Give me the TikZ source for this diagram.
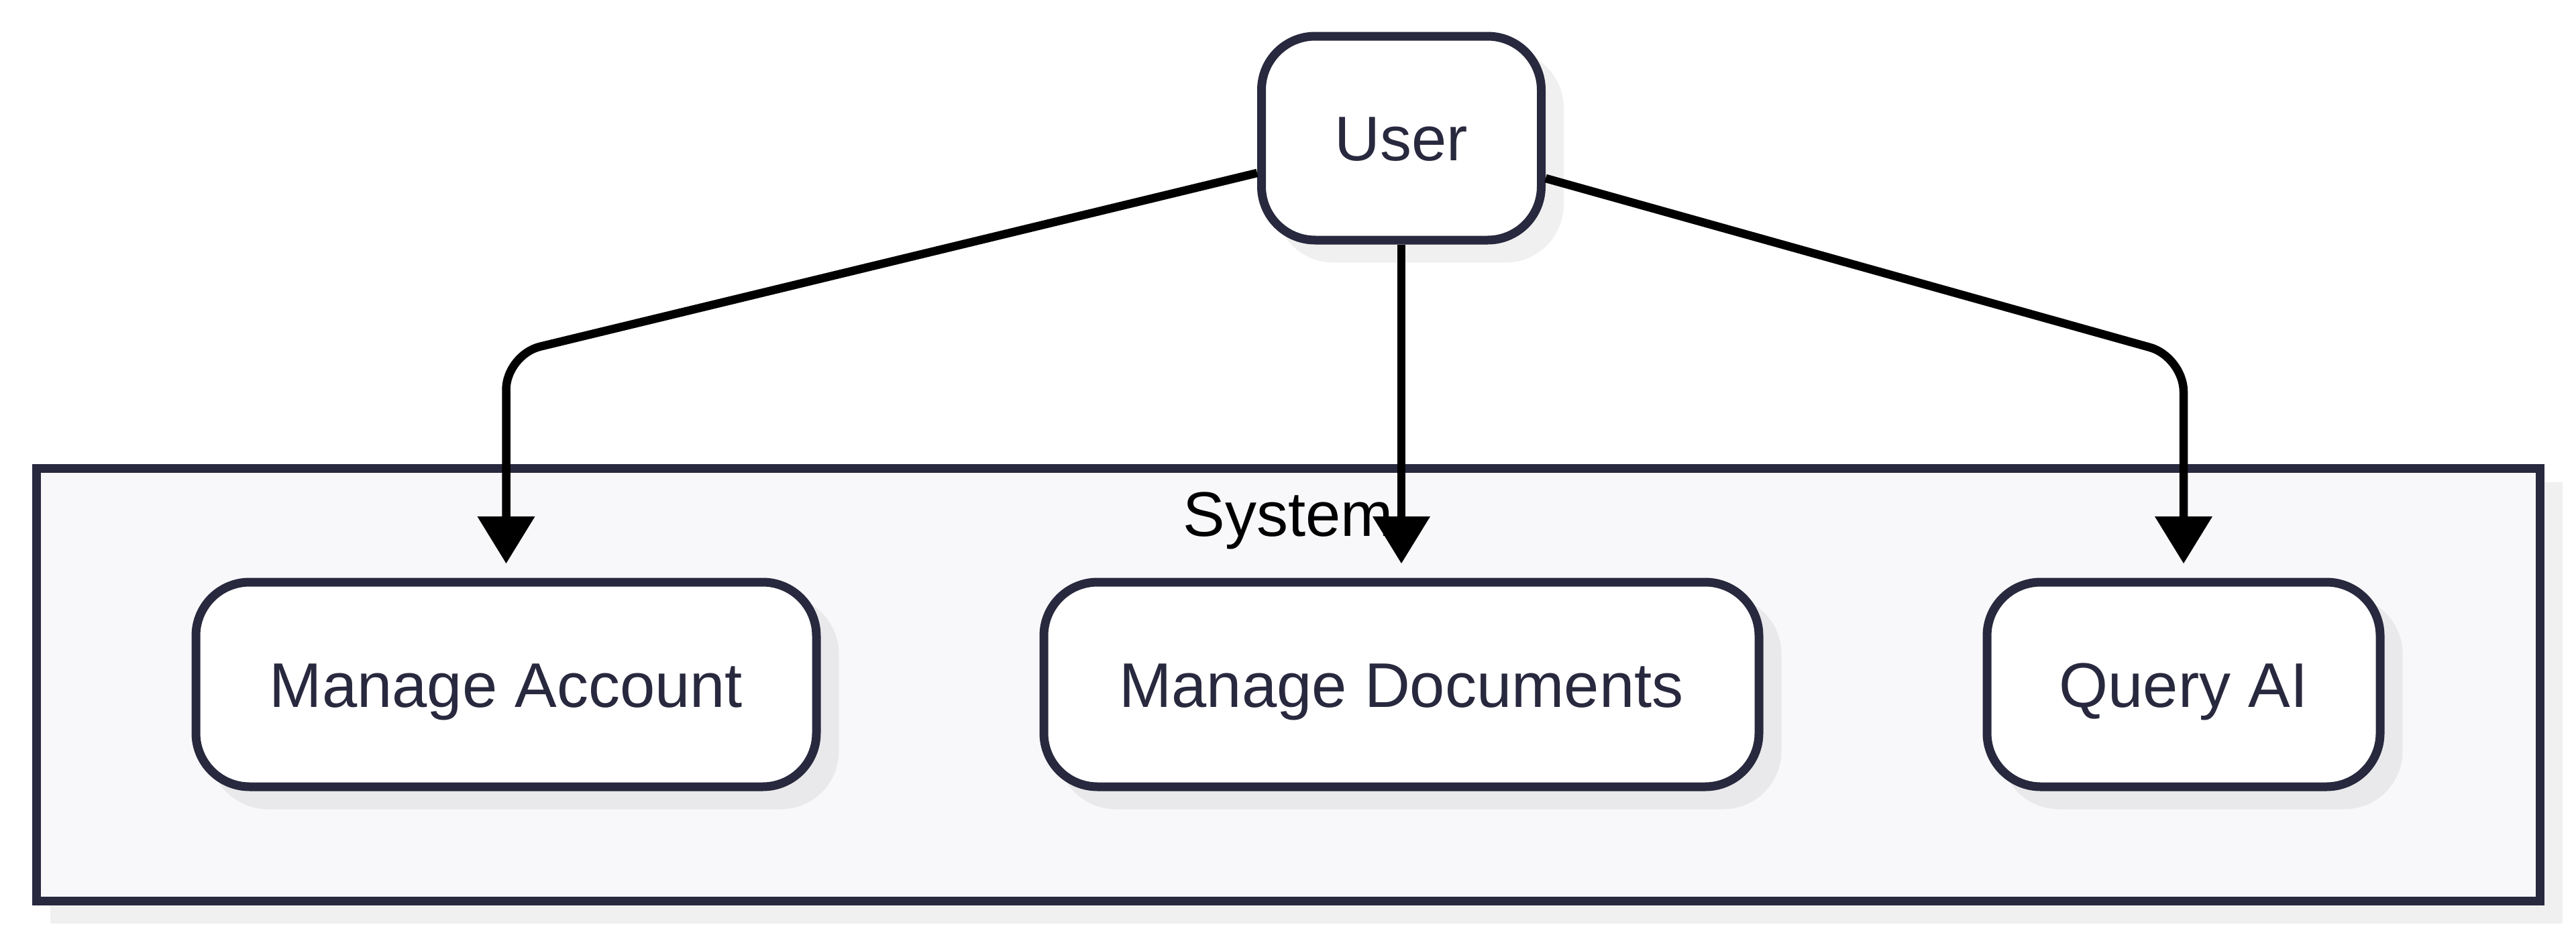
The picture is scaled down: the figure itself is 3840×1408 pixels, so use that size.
\documentclass[tikz,border=0pt]{standalone}
\usepackage{fontspec}
\setmainfont{Liberation Sans}
\usetikzlibrary{arrows.meta}
\definecolor{nodeline}{RGB}{40,40,62}
\definecolor{sysfill}{RGB}{248,248,250}
\pgfdeclarelayer{syslayer}
\pgfdeclarelayer{shadowlayer}
\pgfsetlayers{syslayer,shadowlayer,main}
\begin{document}
\begin{tikzpicture}[x=1pt,y=-1pt,
  usecase/.style={draw=nodeline, line width=13pt, fill=white, rounded corners=80pt,
    text=nodeline, font=\fontsize{94}{110}\selectfont, text height=67.3pt, text depth=0pt,
    inner sep=0pt, minimum height=305pt},
  conn/.style={draw=black, line width=12.5pt,
    -{Triangle[width=86pt,length=70pt,line width=0pt]}, shorten >=21.5pt},
  shadowfill/.style={fill=black, fill opacity=0.06, rounded corners=86.5pt},
  labeltext/.style={font=\fontsize{94}{110}\selectfont, text height=67.3pt, text depth=0pt, inner sep=0pt, text=black}]
\useasboundingbox (0,0) rectangle (3840,1408);

\begin{pgfonlayer}{syslayer}
  \fill[black, fill opacity=0.06] (74.5,718.5) rectangle (3819.5,1376.5);
  \node[draw=nodeline, line width=13pt, fill=sysfill, minimum width=3732pt,
        minimum height=645pt, inner sep=0pt] (sys) at (1920,1020.5) {};
\end{pgfonlayer}

\node[labeltext] (syslabel) at (1920,766) {System};

\node[usecase, minimum width=417pt, minimum height=304pt] (user) at (2089,206) {User};
\node[usecase, minimum width=925pt] (ma) at (754.5,1020.5) {Manage Account};
\node[usecase, minimum width=1066pt] (md) at (2089,1020.5) {Manage Documents};
\node[usecase, minimum width=586pt] (qa) at (3255,1020.5) {Query AI};

\begin{pgfonlayer}{shadowlayer}
  \foreach \n in {user,ma,md,qa}
    \fill[shadowfill] ([xshift=27pt,yshift=-27pt]\n.north west) rectangle ([xshift=27pt,yshift=-27pt]\n.south east);
\end{pgfonlayer}

\coordinate (cL) at (754.5,529);
\coordinate (cR) at (3255,532);
\draw[conn, rounded corners=52pt] (user) -- (cL) -- (ma.north);
\draw[conn] (user.south) -- (md.north);
\draw[conn, rounded corners=52pt] (user) -- (cR) -- (qa.north);
\end{tikzpicture}
\end{document}
